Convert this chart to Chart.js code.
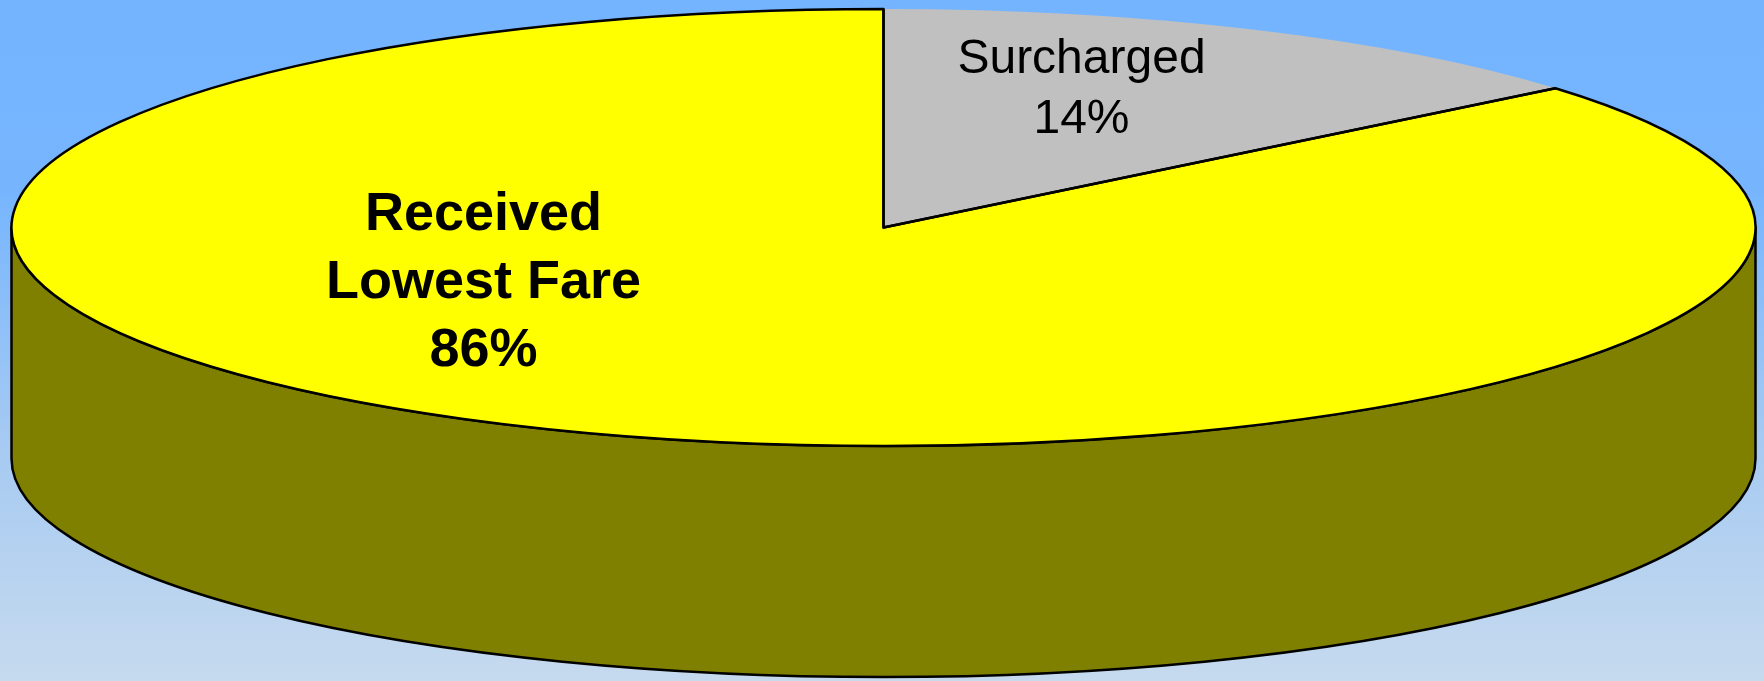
<!DOCTYPE html>
<html>
<head>
<meta charset="utf-8">
<script src="https://cdn.jsdelivr.net/npm/chart.js@4.4.1/dist/chart.umd.min.js"></script>
<style>
  html, body { margin: 0; padding: 0; width: 1764px; height: 681px; overflow: hidden; }
  body { background: linear-gradient(to bottom, #74B4FF 0%, #76B5FE 28%, #A6CAF2 65%, #C6DAEE 100%); }
  canvas { display: block; }
</style>
</head>
<body>
<canvas id="c" width="1764" height="681"></canvas>
<script>
// ---- data ----
const categories = ['Surcharged', 'Received Lowest Fare'];
const categoryLines = [['Surcharged'], ['Received', 'Lowest Fare']];
const values = [14, 86];
const topColors = ['#C0C0C0', '#FFFF00'];
const sideColors = ['#606060', '#808000'];

// ---- pseudo 3D pie geometry ----
const RX = 872;              // outer radius (horizontal)
const RY = 218.5;            // vertical radius of the tilted top
const K = RY / RX;
const DEPTH = 231;
const LW = 2.5;

const pie3d = {
  id: 'pie3d',
  beforeDatasetsDraw(chart) {
    const ctx = chart.ctx;
    const meta = chart.getDatasetMeta(0);
    const arcs = meta.data;
    // side walls (front half only)
    arcs.forEach((arc, i) => {
      const cx = arc.x, cy = arc.y, r = arc.outerRadius, ry = r * K;
      for (let s = -1; s <= 1; s++) {
        const a0 = Math.max(arc.startAngle + s * 2 * Math.PI, 0);
        const a1 = Math.min(arc.endAngle + s * 2 * Math.PI, Math.PI);
        if (a1 <= a0) continue;
        ctx.save();
        ctx.beginPath();
        ctx.ellipse(cx, cy, r, ry, 0, a0, a1, false);
        ctx.ellipse(cx, cy + DEPTH, r, ry, 0, a1, a0, true);
        ctx.closePath();
        ctx.fillStyle = sideColors[i];
        ctx.fill();
        ctx.lineWidth = LW;
        ctx.strokeStyle = '#000';
        ctx.lineJoin = 'round';
        ctx.stroke();
        ctx.restore();
      }
    });
    // squash the pie into an ellipse
    const a = arcs[0];
    ctx.save();
    ctx.translate(a.x, a.y);
    ctx.scale(1, K);
    ctx.translate(-a.x, -a.y);
  },
  afterDatasetsDraw(chart) {
    const ctx = chart.ctx;
    ctx.restore();
    const arcs = chart.getDatasetMeta(0).data;
    // outline of the yellow slice (grey slice has no outer border)
    arcs.forEach((arc, i) => {
      const cx = arc.x, cy = arc.y, r = arc.outerRadius, ry = r * K;
      ctx.save();
      ctx.beginPath();
      if (i === 1) {
        ctx.moveTo(cx, cy);
        ctx.ellipse(cx, cy, r, ry, 0, arc.startAngle, arc.endAngle, false);
        ctx.closePath();
      } else {
        ctx.moveTo(cx + r * Math.cos(arc.startAngle), cy + ry * Math.sin(arc.startAngle));
        ctx.lineTo(cx, cy);
        ctx.lineTo(cx + r * Math.cos(arc.endAngle), cy + ry * Math.sin(arc.endAngle));
      }
      ctx.lineWidth = LW;
      ctx.lineJoin = 'round';
      ctx.strokeStyle = '#000';
      ctx.stroke();
      ctx.restore();
    });
    // labels
    const a = arcs[0];
    const cx = a.x, cy = a.y;
    ctx.save();
    ctx.fillStyle = '#000';
    ctx.textAlign = 'center';
    ctx.textBaseline = 'alphabetic';
    // Surcharged
    const l0 = categoryLines[0].concat([values[0] + '%']);
    ctx.font = '48px "Liberation Sans", Arial, sans-serif';
    l0.forEach((t, j) => ctx.fillText(t, cx + 198, cy - 154.5 + j * 60));
    // Received Lowest Fare
    const l1 = categoryLines[1].concat([values[1] + '%']);
    ctx.font = 'bold 54px "Liberation Sans", Arial, sans-serif';
    l1.forEach((t, j) => ctx.fillText(t, cx - 400, cy + 2.5 + j * 68));
    ctx.restore();
  }
};

new Chart(document.getElementById('c'), {
  type: 'pie',
  data: {
    labels: categories,
    datasets: [{
      data: values,
      backgroundColor: topColors,
      borderWidth: 0,
      radius: RX,
      clip: false
    }]
  },
  options: {
    responsive: false,
    animation: false,
    events: [],
    layout: { padding: { left: 3, right: 0, top: 0, bottom: 226 } },
    plugins: { legend: { display: false }, tooltip: { enabled: false } }
  },
  plugins: [pie3d]
});
</script>
</body>
</html>
